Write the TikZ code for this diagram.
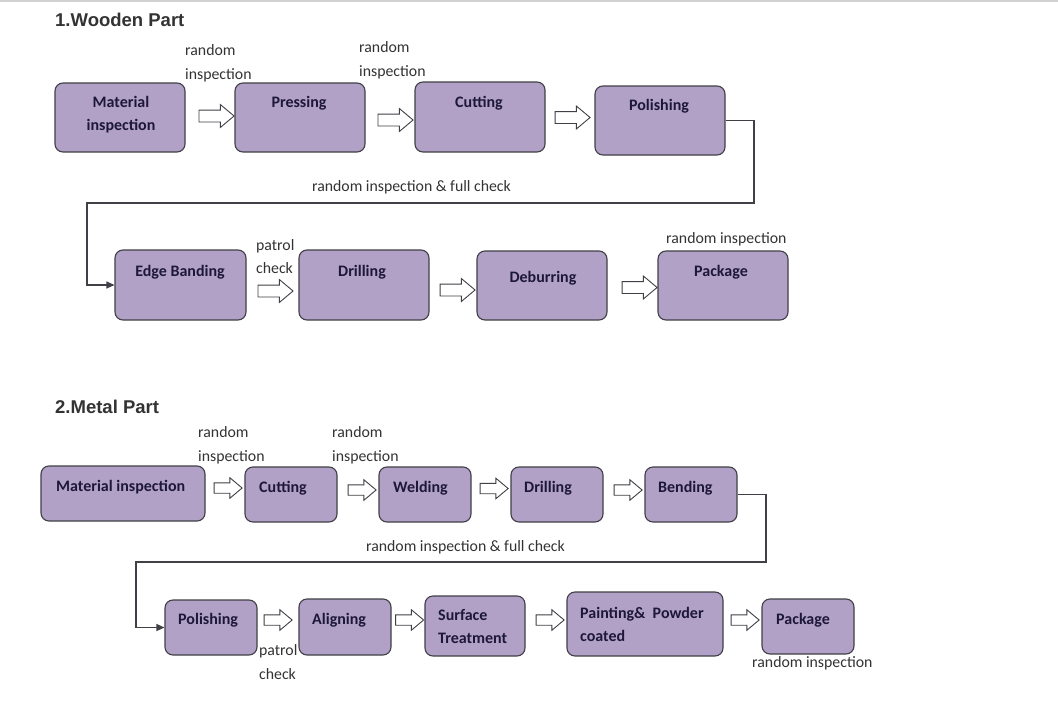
\documentclass[tikz,border=0pt]{standalone}
\usepackage{fontspec}
\setmainfont{Carlito}
\newfontfamily\titlefont{Liberation Sans}
\usetikzlibrary{arrows.meta,shapes.arrows}
\definecolor{boxfill}{RGB}{177,161,199}
\definecolor{boxline}{RGB}{64,64,70}
\definecolor{boxtext}{RGB}{30,24,56}
\definecolor{lbltext}{RGB}{51,51,51}
\tikzset{
  box/.style={draw=boxline,fill=boxfill,line width=1.1pt,rounded corners=8pt,inner sep=0pt},
  boxtxt/.style={text=boxtext,font=\fontsize{16}{23}\selectfont\bfseries,align=left,inner sep=0pt},
  lbl/.style={text=lbltext,font=\fontsize{15.8}{23.5}\selectfont,align=left,inner sep=0pt},
  title/.style={text=lbltext,font=\titlefont\fontsize{18.5}{22}\selectfont\bfseries,inner sep=0pt},
  blk/.style={draw=boxline,fill=white,line width=0.9pt,single arrow,inner xsep=0pt,inner ysep=5.5pt,
    single arrow head extend=5.5pt,single arrow tip angle=80,
    minimum height=35pt,minimum width=22pt},
  blks/.style={blk,inner ysep=4.75pt,minimum height=28pt,minimum width=19.5pt,single arrow head extend=5pt},
  conn/.style={draw=boxline,line width=1.2pt,-{Triangle[length=8pt,width=7pt]}}
}
\begin{document}
\begin{tikzpicture}[x=1pt,y=-1pt]
  \useasboundingbox[fill=white] (0,0) rectangle (1058,720);
  \draw[gray!35,line width=2pt] (0,1) -- (1058,1);
  % 1. wooden part
  \node[title,anchor=west] (wtitle) at (55,20) {1.Wooden Part};
  \node[box,minimum width=130,minimum height=69] (wmat) at (120,117.5) {};
  \node[box,minimum width=130,minimum height=69] (wpress) at (300,117.5) {};
  \node[box,minimum width=130,minimum height=70] (wcut) at (480,117) {};
  \node[box,minimum width=130,minimum height=69] (wpol) at (660,120.5) {};
  \node[box,minimum width=131,minimum height=70] (wedge) at (180.5,285) {};
  \node[box,minimum width=130,minimum height=70] (wdrill) at (364,285) {};
  \node[box,minimum width=130,minimum height=69] (wdeb) at (542,285.5) {};
  \node[box,minimum width=130,minimum height=69] (wpack) at (723,285.5) {};
  \node[boxtxt,align=center] (wmat-t) at (121,114.5) {Material\\inspection};
  \node[boxtxt] (wpress-t) at (299,103) {Pressing};
  \node[boxtxt] (wcut-t) at (479,103) {Cutting};
  \node[boxtxt] (wpol-t) at (659,106) {Polishing};
  \node[boxtxt] (wedge-t) at (180,272) {Edge Banding};
  \node[boxtxt] (wdrill-t) at (362,272) {Drilling};
  \node[boxtxt] (wdeb-t) at (543,278) {Deburring};
  \node[boxtxt] (wpack-t) at (721,272) {Package};
  \node[blk] (wa1) at (213,116) {};
  \node[blk] (wa2) at (392,120) {};
  \node[blk] (wa3) at (569,117.5) {};
  \node[blk] (wa4) at (272,291) {};
  \node[blk] (wa5) at (454,290) {};
  \node[blk] (wa6) at (636,287.5) {};
  \node[lbl,anchor=west] (wl1) at (185,63.5) {random\\inspection};
  \node[lbl,anchor=west] (wl2) at (359,60.5) {random\\inspection};
  \node[lbl] (wl3) at (411.5,187) {random inspection \& full check};
  \node[lbl,anchor=west] (wl4) at (256,256.5) {patrol\\check};
  \node[lbl,anchor=west] (wl5) at (666,239) {random inspection};
  \coordinate (wr) at (754,203);
  \coordinate (wl) at (87,203);
  \draw[conn] (wpol.east) -| (wr) -- (wl) |- (wedge.west);
  % 2. metal part
  \node[title,anchor=west] (mtitle) at (55,407) {2.Metal Part};
  \node[box,minimum width=164,minimum height=55] (mmat) at (123,493.5) {};
  \node[box,minimum width=92,minimum height=55] (mcut) at (291,494.5) {};
  \node[box,minimum width=92,minimum height=55] (mweld) at (425,494.5) {};
  \node[box,minimum width=92,minimum height=55] (mdrill) at (557,494.5) {};
  \node[box,minimum width=92,minimum height=55] (mbend) at (691,494.5) {};
  \node[box,minimum width=92,minimum height=55] (mpol) at (211,627.5) {};
  \node[box,minimum width=92,minimum height=56] (malign) at (345,627) {};
  \node[box,minimum width=100,minimum height=60] (msurf) at (475,626) {};
  \node[box,minimum width=156,minimum height=64] (mpaint) at (645,624) {};
  \node[box,minimum width=92,minimum height=55] (mpack) at (808,626.5) {};
  \node[boxtxt,anchor=west] (mmat-t) at (56,487) {Material inspection};
  \node[boxtxt,anchor=west] (mcut-t) at (259,488) {Cutting};
  \node[boxtxt,anchor=west] (mweld-t) at (393,488) {Welding};
  \node[boxtxt,anchor=west] (mdrill-t) at (524,488) {Drilling};
  \node[boxtxt,anchor=west] (mbend-t) at (658,488) {Bending};
  \node[boxtxt,anchor=west] (mpol-t) at (178,620) {Polishing};
  \node[boxtxt,anchor=west] (malign-t) at (312,620) {Aligning};
  \node[boxtxt,anchor=west] (msurf-t) at (438,626.5) {Surface\\Treatment};
  \node[boxtxt,anchor=west] (mpaint-t) at (580,624.5) {Painting\&~~Powder\\coated};
  \node[boxtxt,anchor=west] (mpack-t) at (776,620) {Package};
  \node[blks] (ma1) at (225,488) {};
  \node[blks] (ma2) at (359,490) {};
  \node[blks] (ma3) at (491,488.5) {};
  \node[blks] (ma4) at (625,490) {};
  \node[blks] (ma5) at (275,620) {};
  \node[blks] (ma6) at (406.5,620) {};
  \node[blks] (ma7) at (547,620) {};
  \node[blks] (ma8) at (742,620) {};
  \node[lbl,anchor=west] (ml1) at (198,445.5) {random\\inspection};
  \node[lbl,anchor=west] (ml2) at (332,445.5) {random\\inspection};
  \node[lbl] (ml3) at (465.5,547) {random inspection \& full check};
  \node[lbl,anchor=west] (ml4) at (259,662) {patrol\\check};
  \node[lbl,anchor=west] (ml5) at (752,663) {random inspection};
  \coordinate (mr) at (766,562);
  \coordinate (ml) at (136,562);
  \draw[conn] (mbend.east) -| (mr) -- (ml) |- (mpol.west);
\end{tikzpicture}
\end{document}
